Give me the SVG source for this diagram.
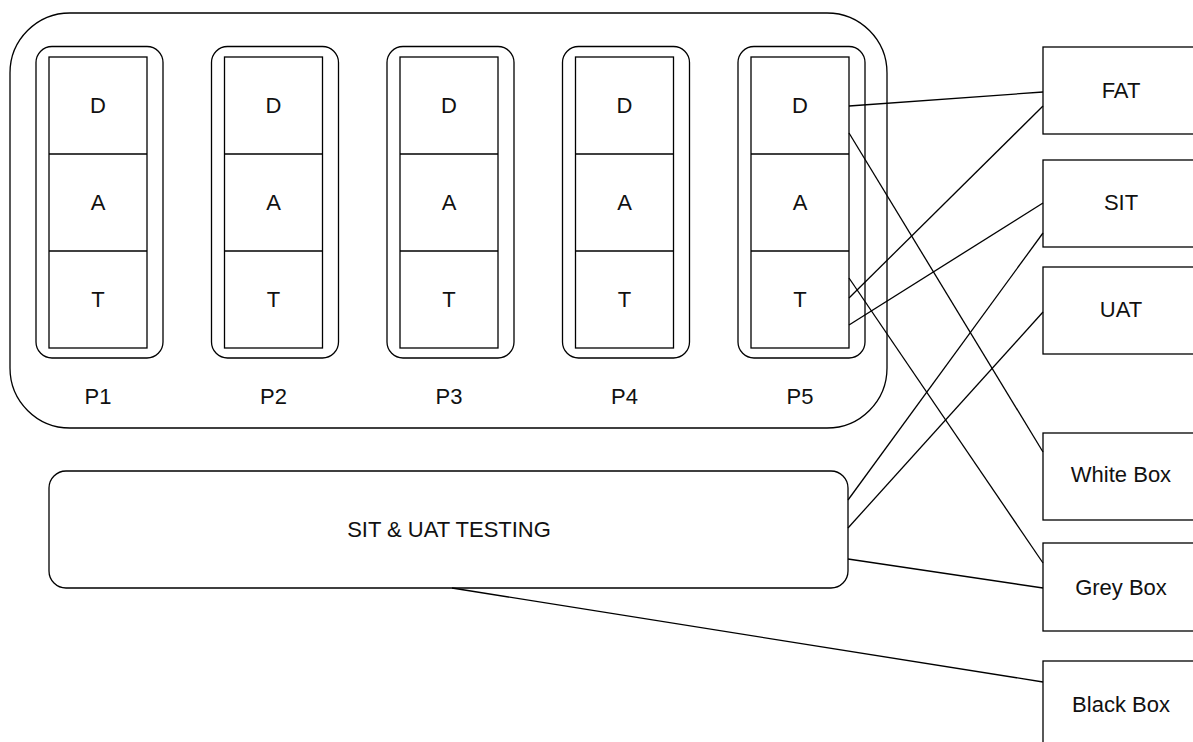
<svg xmlns="http://www.w3.org/2000/svg" width="1193" height="742" viewBox="0 0 1193 742">
<style>
.s{fill:#fff;stroke:#000;stroke-width:1.3}
.n{fill:none;stroke:#000;stroke-width:1.3}
.t{font-family:"Liberation Sans",Arial,sans-serif;font-size:22px;fill:#111;text-anchor:middle}
.c line{stroke:#000;stroke-width:1.3}
</style>
<rect width="1193" height="742" fill="#fff"/>
<g id="phases">
<rect class="s" x="10" y="13" width="877" height="415" rx="60"/>
</g>
<g id="P1">
<rect class="s" x="36" y="46.5" width="127" height="311.5" rx="16"/>
<rect class="n" x="49" y="57" width="98" height="291"/>
<line class="n" x1="49" y1="154" x2="147" y2="154"/><line class="n" x1="49" y1="251" x2="147" y2="251"/>
<text class="t" x="98" y="113">D</text><text class="t" x="98" y="210">A</text><text class="t" x="98" y="307">T</text>
<text class="t" x="98" y="404">P1</text>
</g>
<g id="P2">
<rect class="s" x="211.5" y="46.5" width="127" height="311.5" rx="16"/>
<rect class="n" x="224.5" y="57" width="98" height="291"/>
<line class="n" x1="224.5" y1="154" x2="322.5" y2="154"/><line class="n" x1="224.5" y1="251" x2="322.5" y2="251"/>
<text class="t" x="273.5" y="113">D</text><text class="t" x="273.5" y="210">A</text><text class="t" x="273.5" y="307">T</text>
<text class="t" x="273.5" y="404">P2</text>
</g>
<g id="P3">
<rect class="s" x="387" y="46.5" width="127" height="311.5" rx="16"/>
<rect class="n" x="400" y="57" width="98" height="291"/>
<line class="n" x1="400" y1="154" x2="498" y2="154"/><line class="n" x1="400" y1="251" x2="498" y2="251"/>
<text class="t" x="449" y="113">D</text><text class="t" x="449" y="210">A</text><text class="t" x="449" y="307">T</text>
<text class="t" x="449" y="404">P3</text>
</g>
<g id="P4">
<rect class="s" x="562.5" y="46.5" width="127" height="311.5" rx="16"/>
<rect class="n" x="575.5" y="57" width="98" height="291"/>
<line class="n" x1="575.5" y1="154" x2="673.5" y2="154"/><line class="n" x1="575.5" y1="251" x2="673.5" y2="251"/>
<text class="t" x="624.5" y="113">D</text><text class="t" x="624.5" y="210">A</text><text class="t" x="624.5" y="307">T</text>
<text class="t" x="624.5" y="404">P4</text>
</g>
<g id="P5">
<rect class="s" x="738" y="46.5" width="127" height="311.5" rx="16"/>
<rect class="n" x="751" y="57" width="98" height="291"/>
<line class="n" x1="751" y1="154" x2="849" y2="154"/><line class="n" x1="751" y1="251" x2="849" y2="251"/>
<text class="t" x="800" y="113">D</text><text class="t" x="800" y="210">A</text><text class="t" x="800" y="307">T</text>
<text class="t" x="800" y="404">P5</text>
</g>
<g id="testing">
<rect class="s" x="49" y="471" width="799" height="117" rx="17"/>
<text class="t" x="449" y="537">SIT &amp; UAT TESTING</text>
</g>
<g id="FAT"><rect class="s" x="1043" y="47" width="156" height="87"/><text class="t" x="1121" y="98">FAT</text></g>
<g id="SIT"><rect class="s" x="1043" y="160" width="156" height="87"/><text class="t" x="1121" y="210">SIT</text></g>
<g id="UAT"><rect class="s" x="1043" y="267" width="156" height="87"/><text class="t" x="1121" y="317">UAT</text></g>
<g id="WhiteBox"><rect class="s" x="1043" y="433" width="156" height="87"/><text class="t" x="1121" y="482">White Box</text></g>
<g id="GreyBox"><rect class="s" x="1043" y="543" width="156" height="88"/><text class="t" x="1121" y="595">Grey Box</text></g>
<g id="BlackBox"><rect class="s" x="1043" y="661" width="156" height="90"/><text class="t" x="1121" y="712">Black Box</text></g>
<g id="connectors" class="c">
<line x1="849" y1="106" x2="1043" y2="92"/>
<line x1="849" y1="133" x2="1043" y2="452"/>
<line x1="849" y1="278" x2="1043" y2="563"/>
<line x1="849" y1="298" x2="1043" y2="106"/>
<line x1="849" y1="325" x2="1043" y2="203"/>
<line x1="848" y1="500" x2="1043" y2="233"/>
<line x1="848" y1="528" x2="1043" y2="312"/>
<line x1="848" y1="559" x2="1043" y2="588"/>
<line x1="452" y1="588" x2="1043" y2="682"/>
</g>
</svg>
